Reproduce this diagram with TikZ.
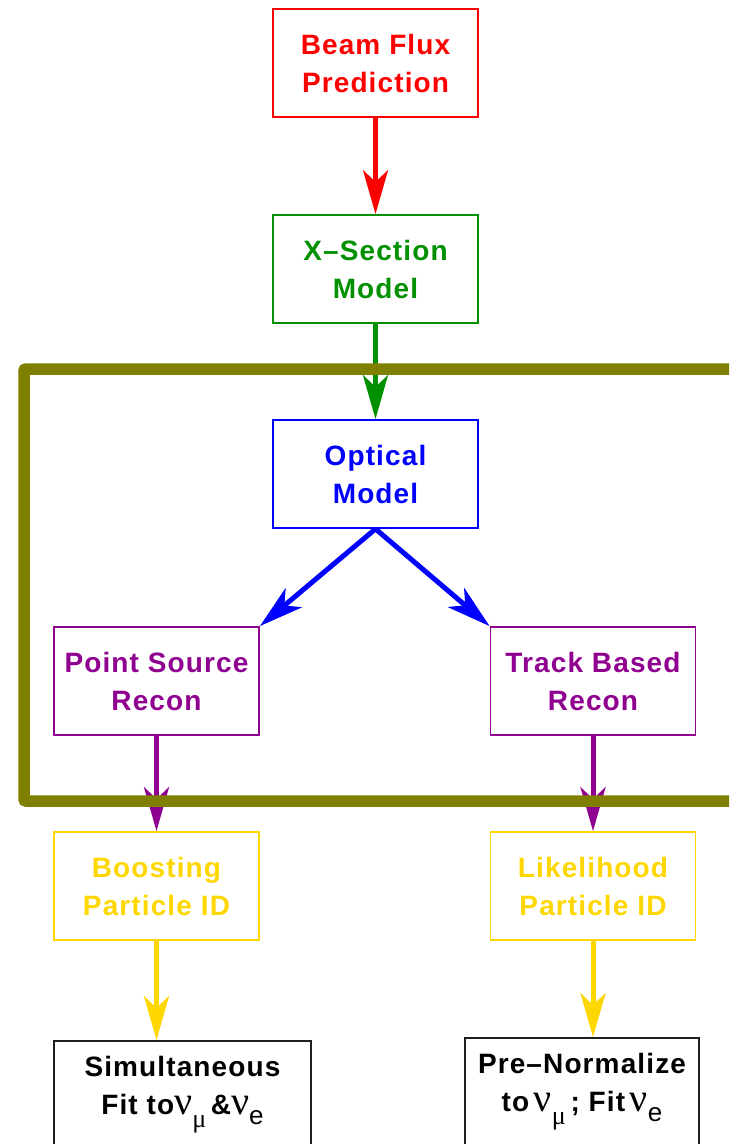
\documentclass[tikz,border=0pt]{standalone}
\usepackage{fontspec}
\setmainfont{Liberation Sans}[LetterSpace=4]
\newfontfamily\grk{Liberation Serif}
\newfontfamily\plainsans{Liberation Sans}
\usetikzlibrary{arrows.meta}
% neutrino symbol with a subscript flavour, set in regular weight
\newcommand\nuflav[2]{{\mdseries\grk\fontsize{40}{40}\selectfont ν}\raisebox{-#2}{\mdseries\fontsize{26}{26}\selectfont #1}}
\definecolor{fluxred}{RGB}{255,0,0}
\definecolor{xsgreen}{RGB}{0,144,0}
\definecolor{optblue}{RGB}{0,0,255}
\definecolor{recpurple}{RGB}{144,0,144}
\definecolor{pidgold}{RGB}{255,215,0}
\definecolor{frameolive}{RGB}{128,128,0}
\definecolor{fitblack}{RGB}{30,30,30}
\tikzset{
  stage/.style={draw, line width=1.8pt, minimum width=205pt, minimum height=108pt,
    align=center, inner sep=0pt, font=\fontsize{28}{38}\selectfont\bfseries},
  flow/.style={line width=5pt, -{Stealth[length=44pt, width=25pt, inset=12pt]}},
}
\begin{document}
\begin{tikzpicture}[x=1pt, y=-1pt]
\clip (0,0) rectangle (729,1144);
\fill[white] (0,0) rectangle (729,1144);

% processing chain
\node[stage, fluxred]   (beam)  at (375.5,63)  {Beam Flux\\Prediction};
\node[stage, xsgreen]   (xsec)  at (375.5,269) {X–Section\\Model};
\node[stage, optblue]   (optic) at (375.5,474) {Optical\\Model};
\node[stage, recpurple] (psrc)  at (156.5,681) {Point Source\\Recon};
\node[stage, recpurple] (track) at (593,681)   {Track Based\\Recon};
\node[stage, pidgold]   (boost) at (156.5,886) {Boosting\\Particle ID};
\node[stage, pidgold]   (like)  at (593,886)   {Likelihood\\Particle ID};
\node[stage, fitblack, text=black, minimum width=257pt] (simfit) at (182.5,1095)
  {Simultaneous\\Fit to\nuflav{\grk μ}{13pt}\,\&\nuflav{\plainsans e}{10pt}};
\node[stage, fitblack, text=black, minimum width=234pt] (prenorm) at (582,1092)
  {Pre–Normalize\\to\,\nuflav{\grk μ}{13pt}\,; Fit\,\nuflav{\plainsans e}{10pt}};

% connectors
\draw[flow, fluxred] (beam) -- (xsec);
\draw[flow, xsgreen] (xsec) -- (optic);
\draw[flow, optblue] (optic.south) -- (psrc.north east);
\draw[flow, optblue] (optic.south) -- (track.north west);
\draw[flow, recpurple] (psrc) -- (boost);
\draw[flow, recpurple] (track) -- (like);
\draw[flow, pidgold] (boost.south) -- (boost.south |- simfit.north);
\draw[flow, pidgold] (like.south) -- (like.south |- prenorm.north);

% detector-simulation frame, open to the right
\draw[frameolive, line width=11.5pt, rounded corners=2pt]
  (800,369) -- (24,369) -- (24,801) -- (800,801);
\end{tikzpicture}
\end{document}
